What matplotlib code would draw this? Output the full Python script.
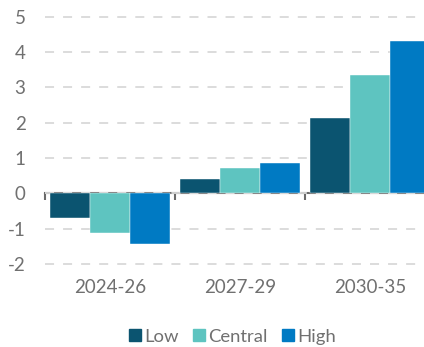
import matplotlib
matplotlib.use("Agg")
import matplotlib.pyplot as plt
from matplotlib.lines import Line2D
import numpy as np

categories = ["2024-26", "2027-29", "2030-35"]
series_names = ["Low", "Central", "High"]
low = [-0.69, 0.40, 2.13]
central = [-1.12, 0.73, 3.35]
high = [-1.44, 0.85, 4.31]
colors = ["#0B5470", "#5EC4C0", "#007AC3"]
yticks = [-2, -1, 0, 1, 2, 3, 4, 5]

plt.rcParams['font.family'] = ['Lato', 'DejaVu Sans']
txt = "#707070"

fig = plt.figure(figsize=(4.24, 3.47), dpi=100)
ax = fig.add_axes([0.1061, 0.209, 0.9198, 0.783])

x = np.arange(len(categories))
w = 0.308
for i, (vals, name, c) in enumerate(zip([low, central, high], series_names, colors)):
    ax.bar(x + (i - 1) * w, vals, width=w, color=c, label=name, zorder=3,
           edgecolor="white", linewidth=0.3)

ax.set_xlim(-0.5, 2.5)
ax.set_ylim(-2.3, 5.4)
ax.set_yticks(yticks)
ax.set_yticklabels([str(v) for v in yticks])
ax.set_xticks(x)
ax.set_xticklabels(categories)
ax.tick_params(axis='both', length=0, labelsize=13.5, colors=txt)
ax.tick_params(axis='y', pad=14)
ax.tick_params(axis='x', pad=3)
for s in ax.spines.values():
    s.set_visible(False)
ax.yaxis.grid(True, color="#D9D9D9", linestyle=(0, (5, 5)), linewidth=1.3, zorder=0)
ax.set_axisbelow(True)

sec = ax.secondary_xaxis(0, transform=ax.transData)
sec.set_xticks([-0.5, 0.5, 1.5, 2.5])
sec.set_xticklabels([])
sec.tick_params(length=5, width=1.5, color="#6A6A6A")
sec.spines['bottom'].set_color("#6A6A6A")
sec.spines['bottom'].set_linewidth(1.5)

handles = [Line2D([], [], marker='s', linestyle='none', markersize=9,
                  markerfacecolor=c, markeredgecolor=c) for c in colors]
fig.legend(handles, series_names, loc='lower center', bbox_to_anchor=(0.545, -0.042),
           ncol=3, frameon=False, fontsize=13.3, handletextpad=0.0, columnspacing=0.6,
           labelcolor=txt, handlelength=1.0)

fig.savefig("out.png", dpi=100)
